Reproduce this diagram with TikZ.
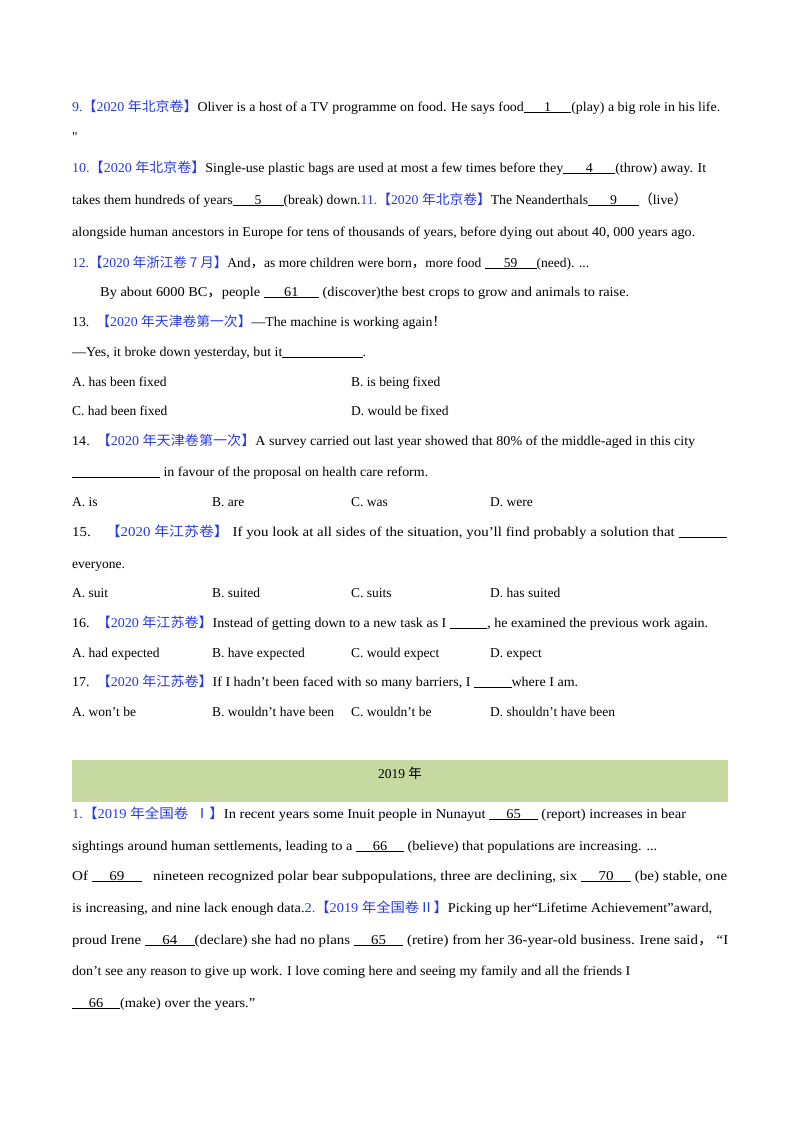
\documentclass[tikz,border=0pt]{standalone}
\usepackage{fontspec}
\usepackage{graphicx}
\setmainfont{Liberation Serif}
\newfontfamily\plainf{Liberation Serif}[Ligatures=ResetAll]
\newfontfamily\cjk{Noto Sans CJK SC}
\definecolor{qb}{RGB}{40,60,225}
\definecolor{band}{RGB}{197,217,160}
\newcommand{\bl}[2][40pt]{\underline{\makebox[#1]{#2}}}
\newcommand{\tag}[3]{{\color{qb}#1{\cjk【}#2 {\cjk #3】}}}
\newcommand{\jl}[2]{\resizebox{#1pt}{\height}{#2}}
\begin{document}
\begin{tikzpicture}[x=1pt,y=-1pt,every node/.style={anchor=base west,inner sep=0pt,font=\fontsize{13.5}{16}\selectfont}]
\useasboundingbox (0,0) rectangle (800,1132);
\fill[white] (0,0) rectangle (800,1132);
\begin{scope}[yshift=-4pt]
\node (l1) at (72,107) {\jl{648}{\tag{9.}{2020}{年北京卷}Oliver is a host of a TV programme on food. He says food\bl[46pt]{1}(play) a big role in his life.}};
\node (l2) at (72,137) {{\plainf "}};
\node (l3) at (72,168) {\jl{634}{\tag{10.}{2020}{年北京卷}Single-use plastic bags are used at most a few times before they\bl[50pt]{4}(throw) away. It}};
\node (l4) at (72,200) {\jl{615}{takes them hundreds of years\bl[50pt]{5}(break) down.\tag{11.}{2020}{年北京卷}The Neanderthals\bl[50pt]{9}{\cjk（}live{\cjk）}}};
\node (l5) at (72,232) {\jl{623}{alongside human ancestors in Europe for tens of thousands of years, before dying out about 40, 000 years ago.}};
\node (l6) at (72,263) {\tag{12.}{2020}{年浙江卷 7 月}And{\cjk ，}as more children were born{\cjk ，}more food \bl[52pt]{59}(need). ...};
\node (l7) at (100,292) {\jl{529}{By about 6000 BC{\cjk ，}people \bl[52pt]{61} (discover)the best crops to grow and animals to raise.}};
\node (l8) at (72,322) {\jl{374}{13.\ \ \tag{}{2020}{年天津卷第一次}—The machine is working again{\cjk ！}}};
\node (l9) at (72,352) {\jl{294}{—Yes, it broke down yesterday, but it\underline{\hspace{78pt}}.}};
\node (o1) at (72,382) {A. has been fixed};
\node (o2) at (351,382) {B. is being fixed};
\node (o3) at (72,411) {C. had been fixed};
\node (o4) at (351,411) {D. would be fixed};
\node (l10) at (72,441) {\jl{623}{14.\ \ \tag{}{2020}{年天津卷第一次}A survey carried out last year showed that 80\% of the middle-aged in this city}};
\node (l11) at (72,472) {\jl{356}{\underline{\hspace{85pt}} in favour of the proposal on health care reform.}};
\node (p1) at (72,502) {A. is};
\node (p2) at (212,502) {B. are};
\node (p3) at (351,502) {C. was};
\node (p4) at (490,502) {D. were};
\node (l12) at (72,532) {\jl{655}{15.\ \ \ \ \tag{}{2020}{年江苏卷}\ If you look at all sides of the situation, you'll find probably a solution that \underline{\hspace{44pt}}}};
\node (l13) at (72,564) {everyone.};
\node (q1) at (72,593) {A. suit};
\node (q2) at (212,593) {B. suited};
\node (q3) at (351,593) {C. suits};
\node (q4) at (490,593) {D. has suited};
\node (l14) at (72,623) {\jl{636}{16.\ \ \tag{}{2020}{年江苏卷}Instead of getting down to a new task as I \underline{\hspace{36pt}}, he examined the previous work again.}};
\node (r1) at (72,653) {A. had expected};
\node (r2) at (212,653) {B. have expected};
\node (r3) at (351,653) {C. would expect};
\node (r4) at (490,653) {D. expect};
\node (l15) at (72,682) {\jl{506}{17.\ \ \tag{}{2020}{年江苏卷}If I hadn't been faced with so many barriers, I \underline{\hspace{36pt}}where I am.}};
\node (s1) at (72,712) {A. won't be};
\node (s2) at (212,712) {B. wouldn't have been};
\node (s3) at (351,712) {C. wouldn't be};
\node (s4) at (490,712) {D. shouldn't have been};
\end{scope}
\fill[band] (72,760) rectangle (728,802);
\node[anchor=base] (yr) at (400,778) {2019 {\cjk 年}};
\begin{scope}[yshift=-4pt]
\node (m1) at (72,814) {\jl{614}{\tag{1.}{2019}{年全国卷\ \ Ⅰ}In recent years some Inuit people in Nunayut \bl[45pt]{65} (report) increases in bear}};
\node (m2) at (72,846) {\jl{585}{sightings around human settlements, leading to a \bl[45pt]{66} (believe) that populations are increasing. ...}};
\node (m3) at (72,876) {\jl{655}{Of \bl[45pt]{69}\ \ \ nineteen recognized polar bear subpopulations, three are declining, six \bl[45pt]{70} (be) stable, one}};
\node (m4) at (72,908) {\jl{640}{is increasing, and nine lack enough data.\tag{2.}{2019}{年全国卷Ⅱ}Picking up her“Lifetime Achievement”award,}};
\node (m5) at (72,940) {\jl{656}{proud Irene \bl[45pt]{64}(declare) she had no plans \bl[45pt]{65} (retire) from her 36-year-old business. Irene said{\cjk ，}\ “I}};
\node (m6) at (72,971) {\jl{558}{don't see any reason to give up work. I love coming here and seeing my family and all the friends I}};
\node (m7) at (72,1003) {\jl{183}{\bl[45pt]{66}(make) over the years.”}};
\end{scope}
\end{tikzpicture}
\end{document}
